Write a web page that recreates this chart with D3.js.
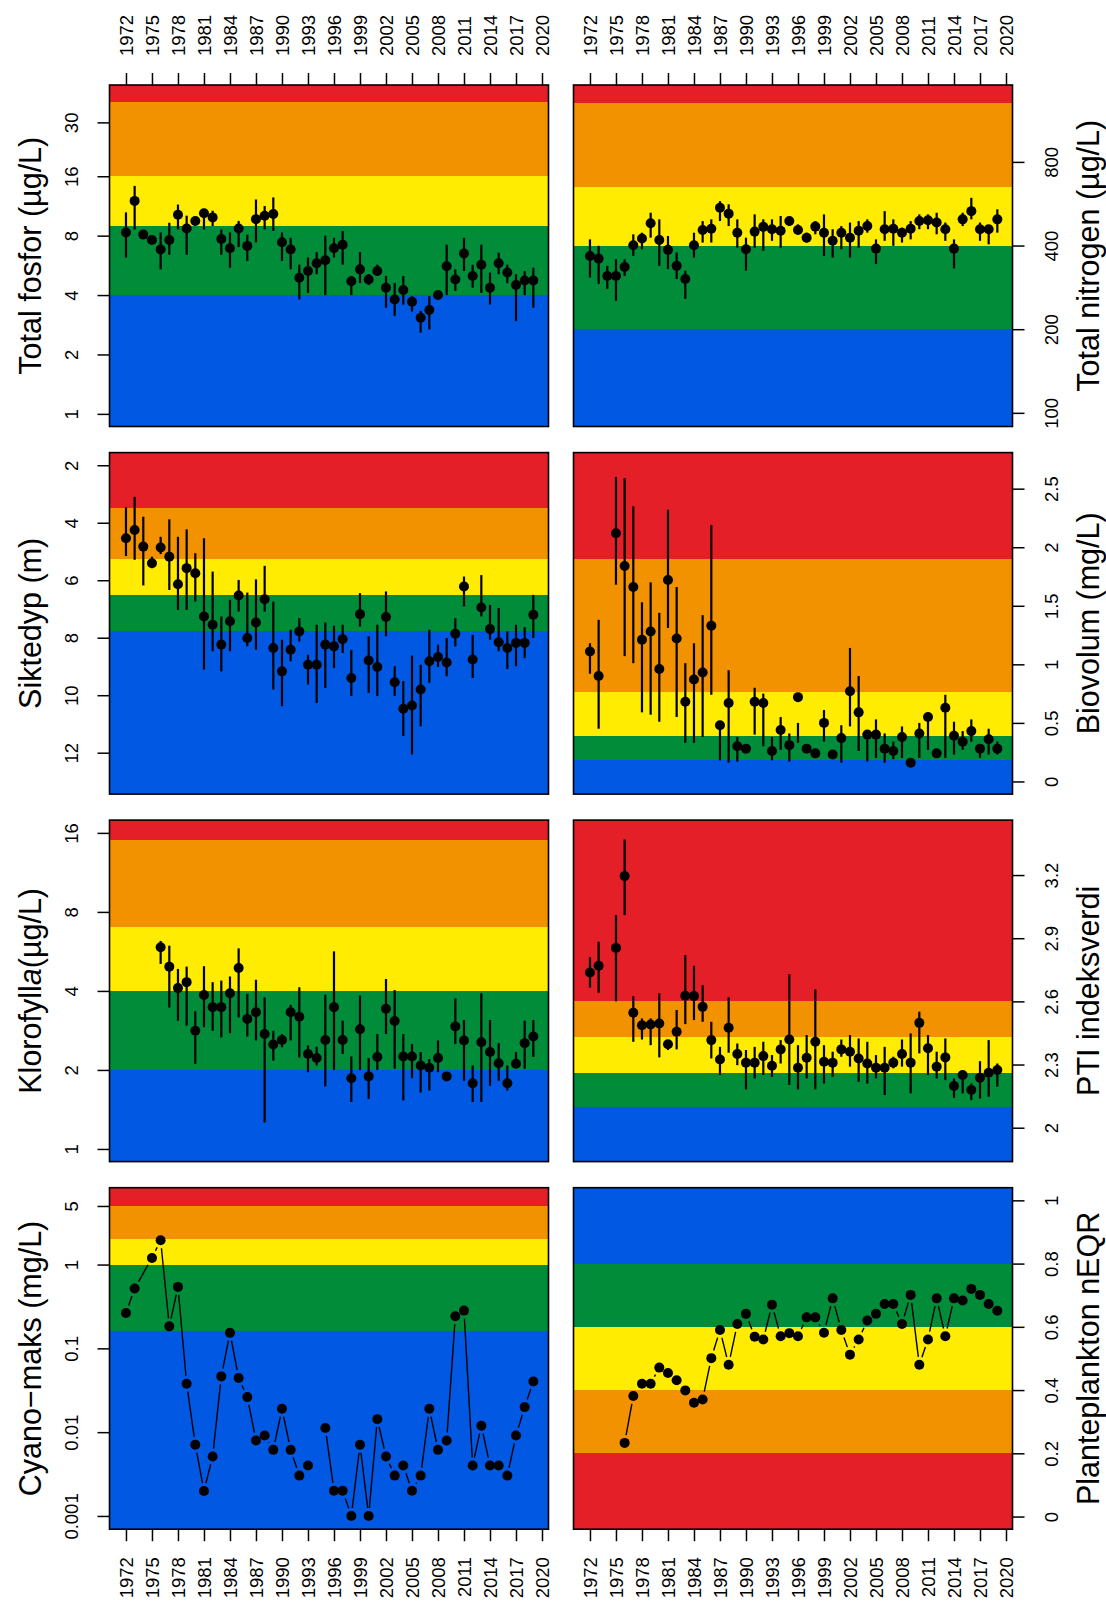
<!doctype html>
<html>
<head>
<meta charset="utf-8">
<script src="https://cdn.jsdelivr.net/npm/d3@7"></script>
<style>
  body { margin: 0; background: #fff; }
  svg text { font-family: "Liberation Sans", Arial, Helvetica, sans-serif; fill: #000; }
</style>
</head>
<body>
<svg id="chart" width="1106" height="1602"></svg>
<script>
  // ---- data ----
  var years = [1972, 1973, 1974, 1975, 1976, 1977, 1978, 1979, 1980, 1981,
    1982, 1983, 1984, 1985, 1986, 1987, 1988, 1989, 1990, 1991,
    1992, 1993, 1994, 1995, 1996, 1997, 1998, 1999, 2000, 2001,
    2002, 2003, 2004, 2005, 2006, 2007, 2008, 2009, 2010, 2011,
    2012, 2013, 2014, 2015, 2016, 2017, 2018, 2019];
  var xTicks = [1972, 1975, 1978, 1981, 1984, 1987, 1990, 1993, 1996, 1999,
    2002, 2005, 2008, 2011, 2014, 2017, 2020];

  // Total fosfor (ug/L)
  var tpMean = [8.3, 12.0, 8.1, 7.6, 6.8, 7.6, 10.2, 8.7, 9.5, 10.4, 9.9, 7.7, 6.9, 8.7, 7.1, 9.7, 10.1, 10.3, 7.4, 6.8,
    4.9, 5.3, 5.8, 6.0, 6.9, 7.2, 4.7, 5.4, 4.8, 5.3, 4.36, 3.8, 4.24, 3.7, 3.07, 3.36, 4.0, 5.6, 4.8, 6.5,
    5.0, 5.7, 4.36, 5.8, 5.2, 4.5, 4.74, 4.74];
  var tpLo = [6.2, 8.6, 7.8, 7.3, 5.4, 6.4, 8.6, 6.4, 9.1, 8.6, 8.95, 6.4, 5.5, 7.0, 5.95, 7.4, 8.6, 8.45, 5.95, 5.4,
    3.8, 4.1, 5.1, 4.0, 6.2, 5.7, 4.0, 4.6, 4.5, 5.0, 3.45, 3.13, 3.58, 3.3, 2.58, 2.68, 3.8, 4.0, 4.2, 5.3,
    4.36, 4.1, 3.58, 5.1, 4.6, 2.95, 4.0, 3.45];
  var tpHi = [10.5, 14.3, 8.4, 7.9, 8.3, 9.3, 11.5, 10.1, 9.9, 10.9, 10.7, 8.6, 8.3, 9.5, 8.1, 12.2, 11.3, 12.5, 8.3, 7.8,
    5.7, 6.2, 6.6, 8.0, 7.8, 8.45, 5.0, 6.6, 5.1, 5.7, 5.0, 4.6, 5.0, 3.95, 3.32, 3.95, 4.2, 7.2, 5.4, 7.8,
    5.7, 7.2, 5.2, 6.56, 5.7, 5.1, 5.3, 5.5];
  var tpTicks = [1, 2, 4, 8, 16, 30];
  var tpBreaks = [4, 9, 16, 38];

  // Total nitrogen (ug/L)
  var tnMean = [367, 359, 311, 311, 335, 401, 424, 481, 419, 386, 338, 303, 401, 455, 460, 547, 521, 445, 388, 449,
    467, 458, 452, 490, 455, 427, 468, 445, 416, 445, 427, 452, 470, 390, 458, 460, 445, 460, 490, 493,
    484, 458, 390, 497, 532, 458, 458, 497];
  var tnLo = [307, 291, 279, 253, 311, 367, 388, 427, 338, 329, 303, 257, 362, 410, 410, 490, 470, 393, 325, 393,
    383, 416, 393, 470, 439, 410, 439, 367, 362, 388, 362, 393, 445, 343, 416, 399, 410, 421, 458, 458,
    439, 416, 331, 470, 497, 416, 404, 445];
  var tnHi = [421, 399, 338, 357, 357, 439, 445, 525, 497, 433, 378, 325, 445, 490, 497, 578, 563, 497, 427, 518,
    497, 497, 511, 504, 477, 445, 490, 518, 458, 470, 484, 490, 497, 421, 532, 497, 464, 490, 518, 518,
    525, 484, 421, 525, 594, 484, 470, 540];
  var tnTicks = [100, 200, 400, 800];
  var tnBreaks = [200, 400, 650, 1300];

  // Siktedyp (m)
  var secMean = [4.54, 4.25, 4.83, 5.41, 4.86, 5.18, 6.14, 5.58, 5.76, 7.26, 7.55, 8.24, 7.43, 6.53, 8.01, 7.47, 6.66, 8.36, 9.17, 8.42,
    7.78, 8.94, 8.94, 8.24, 8.30, 8.05, 9.40, 7.18, 8.79, 9.02, 7.28, 9.55, 10.47, 10.36, 9.80, 8.82, 8.67, 8.86, 7.86, 6.22,
    8.76, 6.95, 7.70, 8.16, 8.36, 8.18, 8.18, 7.20];
  var secLo = [3.47, 3.10, 3.79, 5.18, 4.49, 3.88, 4.49, 4.23, 5.06, 4.54, 5.70, 7.26, 6.68, 5.99, 6.43, 5.97, 5.50, 6.74, 8.07, 7.72,
    7.32, 8.59, 7.55, 7.47, 7.58, 7.55, 8.42, 6.45, 7.95, 7.55, 6.39, 8.99, 9.51, 8.62, 8.94, 7.72, 8.24, 8.01, 7.32, 5.87,
    7.90, 5.82, 6.86, 6.97, 7.78, 7.55, 7.63, 6.51];
  var secHi = [5.16, 5.29, 6.18, 5.58, 5.09, 6.34, 7.03, 7.03, 6.74, 9.11, 8.47, 9.17, 8.47, 7.09, 8.30, 8.42, 7.09, 9.80, 10.38, 8.82,
    8.13, 9.63, 10.27, 9.75, 9.05, 8.53, 10.03, 7.61, 9.92, 10.03, 7.95, 10.03, 11.42, 12.06, 11.08, 9.57, 9.02, 9.34, 8.30, 6.91,
    9.40, 7.26, 8.07, 8.47, 9.09, 8.99, 8.71, 8.01];
  var secTicks = [2, 4, 6, 8, 10, 12];
  var secBreaks = [3.5, 5.25, 6.5, 7.75];

  // Biovolum (mg/L)
  var bioMean = [1.11, 0.90, null, 2.12, 1.84, 1.66, 1.21, 1.28, 0.96, 1.72, 1.22, 0.68, 0.87, 0.93, 1.33, 0.48, 0.67, 0.30, 0.28, 0.68,
    0.67, 0.26, 0.44, 0.31, 0.72, 0.28, 0.24, 0.50, 0.23, 0.37, 0.77, 0.59, 0.40, 0.40, 0.28, 0.26, 0.38, 0.16, 0.41, 0.55,
    0.24, 0.63, 0.39, 0.34, 0.43, 0.28, 0.36, 0.28];
  var bioLo = [0.92, 0.45, null, 1.68, 1.07, 1.01, 0.59, 0.57, 0.51, 1.31, 0.55, 0.33, 0.33, 0.38, 0.74, 0.18, 0.16, 0.17, 0.26, 0.40,
    0.30, 0.18, 0.27, 0.17, 0.33, 0.26, 0.22, 0.34, 0.21, 0.16, 0.47, 0.26, 0.17, 0.20, 0.16, 0.19, 0.20, 0.15, 0.20, 0.27,
    0.22, 0.20, 0.23, 0.27, 0.34, 0.20, 0.23, 0.23];
  var bioHi = [1.18, 1.38, null, 2.60, 2.59, 2.35, 1.53, 1.70, 1.44, 2.32, 1.66, 1.01, 1.18, 1.42, 2.19, 0.48, 0.95, 0.38, 0.30, 0.80,
    0.75, 0.38, 0.55, 0.41, 0.50, 0.30, 0.26, 0.61, 0.25, 0.48, 1.14, 0.90, 0.43, 0.53, 0.41, 0.34, 0.47, 0.17, 0.50, 0.55,
    0.26, 0.74, 0.51, 0.43, 0.53, 0.31, 0.45, 0.34];
  var bioTicks = [0, 0.5, 1, 1.5, 2, 2.5];
  var bioBreaks = [0.18, 0.39, 0.76, 1.9];

  // Klorofyll a (ug/L)
  var chlMean = [null, null, null, null, 5.87, 4.95, 4.10, 4.32, 2.82, 3.86, 3.47, 3.47, 3.92, 4.89, 3.13, 3.32, 2.74, 2.50, 2.60, 3.32,
    3.19, 2.30, 2.22, 2.60, 3.47, 2.60, 1.86, 2.86, 1.89, 2.24, 3.42, 3.07, 2.25, 2.25, 2.08, 2.04, 2.22, 1.89, 2.93, 2.59,
    1.78, 2.55, 2.34, 2.12, 1.78, 2.11, 2.53, 2.68];
  var chlLo = [null, null, null, null, 5.07, 3.46, 3.08, 2.95, 2.11, 2.91, 2.82, 2.66, 2.76, 3.17, 2.68, 2.59, 1.26, 2.17, 2.44, 2.59,
    2.23, 1.96, 2.08, 1.73, 2.0, 2.30, 1.51, 2.0, 1.55, 2.0, 2.74, 2.02, 1.53, 1.86, 1.64, 1.67, 1.96, 1.82, 2.51, 1.82,
    1.51, 1.51, 1.74, 1.82, 1.67, 2.05, 2.02, 2.24];
  var chlHi = [null, null, null, null, 6.2, 5.95, 4.85, 4.95, 3.35, 4.97, 4.32, 4.38, 4.54, 5.81, 3.90, 4.41, 3.78, 2.82, 2.74, 3.54,
    4.13, 2.48, 2.45, 3.87, 5.66, 3.08, 2.25, 3.84, 2.22, 2.74, 4.44, 4.03, 2.74, 2.51, 2.34, 2.20, 2.59, 1.95, 3.75, 3.10,
    2.08, 3.92, 3.10, 2.53, 2.08, 2.34, 3.08, 3.10];
  var chlTicks = [1, 2, 4, 8, 16];
  var chlBreaks = [2, 4, 7, 15];

  // PTI indeksverdi
  var ptiMean = [2.737, 2.769, null, 2.854, 3.195, 2.546, 2.487, 2.49, 2.495, 2.396, 2.456, 2.627, 2.625, 2.574, 2.416, 2.324, 2.475, 2.35, 2.309, 2.309,
    2.34, 2.294, 2.372, 2.419, 2.285, 2.332, 2.408, 2.313, 2.309, 2.372, 2.361, 2.329, 2.305, 2.285, 2.285, 2.309, 2.35, 2.309, 2.498, 2.377,
    2.29, 2.334, 2.198, 2.25, 2.179, 2.237, 2.261, 2.274];
  var ptiLo = [2.666, 2.641, null, 2.60, 3.01, 2.408, 2.419, 2.392, 2.334, 2.369, 2.372, 2.492, 2.511, 2.503, 2.329, 2.25, 2.356, 2.297, 2.182, 2.234,
    2.25, 2.242, 2.305, 2.203, 2.182, 2.234, 2.182, 2.21, 2.242, 2.337, 2.29, 2.218, 2.21, 2.234, 2.155, 2.282, 2.29, 2.163, 2.353, 2.25,
    2.234, 2.226, 2.142, 2.163, 2.131, 2.139, 2.147, 2.195];
  var ptiHi = [2.81, 2.883, null, 3.01, 3.369, 2.625, 2.519, 2.519, 2.638, 2.416, 2.559, 2.82, 2.769, 2.677, 2.503, 2.384, 2.619, 2.40, 2.369, 2.384,
    2.408, 2.345, 2.416, 2.729, 2.392, 2.44, 2.657, 2.392, 2.361, 2.419, 2.44, 2.424, 2.408, 2.345, 2.384, 2.337, 2.419, 2.448, 2.551, 2.44,
    2.361, 2.424, 2.234, 2.266, 2.21, 2.316, 2.416, 2.305];
  var ptiTicks = [2, 2.3, 2.6, 2.9, 3.2];
  var ptiBreaks = [2.1, 2.26, 2.43, 2.6];

  // Cyano-maks (mg/L) - no row for 1974, 1994 is missing
  var cyanoYears = [1972, 1973, 1975, 1976, 1977, 1978, 1979, 1980, 1981, 1982,
    1983, 1984, 1985, 1986, 1987, 1988, 1989, 1990, 1991, 1992,
    1993, 1994, 1995, 1996, 1997, 1998, 1999, 2000, 2001, 2002,
    2003, 2004, 2005, 2006, 2007, 2008, 2009, 2010, 2011, 2012,
    2013, 2014, 2015, 2016, 2017, 2018, 2019];
  var cyano = [0.264, 0.517, 1.20, 1.95, 0.183, 0.541, 0.0378, 0.00706, 0.00199, 0.00512,
    0.0463, 0.153, 0.0442, 0.0262, 0.00795, 0.00912, 0.00615, 0.0190, 0.00615, 0.00303,
    0.0040, null, 0.0112, 0.002, 0.002, 0.001, 0.00706, 0.001, 0.0143, 0.00512,
    0.00303, 0.0040, 0.002, 0.00303, 0.0190, 0.00615, 0.00795, 0.241, 0.282, 0.004,
    0.0119, 0.004, 0.004, 0.00303, 0.00912, 0.0199, 0.0403];
  var cyanoTicks = [0.001, 0.01, 0.1, 1, 5];
  var cyanoBreaks = [0.16, 1, 2, 5];

  // Planteplankton nEQR
  var neqr = [null, null, null, null, 0.233, 0.381, 0.420, 0.420, 0.471, 0.454, 0.431, 0.399, 0.360, 0.370, 0.501, 0.590, 0.480, 0.609, 0.641, 0.569,
    0.560, 0.670, 0.570, 0.580, 0.570, 0.630, 0.630, 0.581, 0.690, 0.590, 0.512, 0.560, 0.620, 0.641, 0.672, 0.672, 0.609, 0.701, 0.480, 0.560,
    0.690, 0.570, 0.690, 0.683, 0.720, 0.701, 0.672, 0.651];
  var neqrTicks = [0, 0.2, 0.4, 0.6, 0.8, 1];
  var neqrBreaks = [0.2, 0.4, 0.6, 0.8];

  // class colours, listed from low value to high value
  var RED = '#e41f27', ORANGE = '#f29200', YELLOW = '#ffec00', GREEN = '#008c39', BLUE = '#0058e3';
  var worseUp = [BLUE, GREEN, YELLOW, ORANGE, RED];
  var betterUp = [RED, ORANGE, YELLOW, GREEN, BLUE];

  var panels = [
    { row: 0, col: 0, title: ['Total fosfor (µg/L)'], log: true, domain: [0.863, 46.4], ticks: tpTicks,
      breaks: tpBreaks, colors: worseUp, years: years, mean: tpMean, lo: tpLo, hi: tpHi },
    { row: 0, col: 1, title: ['Total nitrogen (µg/L)'], log: true, domain: [89.3, 1513], ticks: tnTicks,
      breaks: tnBreaks, colors: worseUp, years: years, mean: tnMean, lo: tnLo, hi: tnHi },
    { row: 1, col: 0, title: ['Siktedyp (m)'], log: false, domain: [13.44, 1.56], ticks: secTicks,
      breaks: secBreaks, colors: betterUp, years: years, mean: secMean, lo: secLo, hi: secHi },
    { row: 1, col: 1, title: ['Biovolum (mg/L)'], log: false, domain: [-0.108, 2.808], ticks: bioTicks,
      breaks: bioBreaks, colors: worseUp, years: years, mean: bioMean, lo: bioLo, hi: bioHi },
    { row: 2, col: 0, title: ['Klorofyll', 'a', '(µg/L)'], log: true, domain: [0.895, 17.9], ticks: chlTicks,
      breaks: chlBreaks, colors: worseUp, years: years, mean: chlMean, lo: chlLo, hi: chlHi },
    { row: 2, col: 1, title: ['PTI indeksverdi'], log: false, domain: [1.839, 3.461], ticks: ptiTicks,
      breaks: ptiBreaks, colors: worseUp, years: years, mean: ptiMean, lo: ptiLo, hi: ptiHi },
    { row: 3, col: 0, title: ['Cyano\u2212maks (mg/L)'], log: true, domain: [0.000695, 8.26], ticks: cyanoTicks,
      breaks: cyanoBreaks, colors: worseUp, years: cyanoYears, mean: cyano, lines: true },
    { row: 3, col: 1, title: ['Planteplankton nEQR'], log: false, domain: [-0.04, 1.04], ticks: neqrTicks,
      breaks: neqrBreaks, colors: betterUp, years: years, mean: neqr, lines: true }
  ];

  // ---- layout ----
  var colX = [109.5, 573.5];
  var rowY = [85, 452.6, 820.1, 1187.7];
  var panelW = 439, panelH = 341.5;
  var xDomain = [1970.1, 2020.75];
  var tickFont = 18.5, titleFont = 30.5;
  var tickLen = 12, dotR = 5, lineGap = 8;

  var svg = d3.select('#chart');

  panels.forEach(drawPanel);

  function styleAxis(ax, transform, anchor) {
    ax.attr('font-size', null).attr('font-family', null);
    ax.select('.domain').remove();
    ax.selectAll('.tick line').attr('stroke', '#000').attr('stroke-width', 1.5);
    ax.selectAll('.tick text')
      .attr('x', null).attr('y', null).attr('dy', null)
      .attr('text-anchor', anchor)
      .attr('transform', transform)
      .style('font-size', tickFont + 'px');
  }

  function drawPanel(p) {
    var x0 = colX[p.col], y0 = rowY[p.row];
    var g = svg.append('g').attr('transform', 'translate(' + x0 + ',' + y0 + ')');

    var x = d3.scaleLinear().domain(xDomain).range([0, panelW]);
    var y = (p.log ? d3.scaleLog() : d3.scaleLinear()).domain(p.domain).range([panelH, 0]);

    // class bands
    var edges = [d3.min(p.domain)].concat(p.breaks, [d3.max(p.domain)]);
    g.append('g').attr('shape-rendering', 'crispEdges')
      .selectAll('rect').data(p.colors).enter().append('rect')
      .attr('x', 0).attr('width', panelW)
      .attr('y', function (c, i) { return Math.min(y(edges[i]), y(edges[i + 1])); })
      .attr('height', function (c, i) { return Math.abs(y(edges[i]) - y(edges[i + 1])); })
      .attr('fill', function (c) { return c; });

    var rows = p.years.map(function (yr, i) {
      return {
        year: yr, v: p.mean[i],
        lo: p.lo ? p.lo[i] : null,
        hi: p.hi ? p.hi[i] : null
      };
    });
    var valid = rows.filter(function (d) { return d.v != null; });

    // error bars
    if (p.lo) {
      g.append('g').selectAll('line').data(valid.filter(function (d) { return d.lo != null; }))
        .enter().append('line')
        .attr('x1', function (d) { return x(d.year); })
        .attr('x2', function (d) { return x(d.year); })
        .attr('y1', function (d) { return y(d.lo); })
        .attr('y2', function (d) { return y(d.hi); })
        .attr('stroke', '#000').attr('stroke-width', 2.2);
    }

    // R type="b": segments stop short of the points
    if (p.lines) {
      var segs = [];
      for (var i = 0; i < rows.length - 1; i++) {
        var a = rows[i], b = rows[i + 1];
        if (a.v == null || b.v == null) continue;
        var ax = x(a.year), ay = y(a.v), bx = x(b.year), by = y(b.v);
        var len = Math.hypot(bx - ax, by - ay);
        if (len <= 2 * lineGap) continue;
        var ux = (bx - ax) / len, uy = (by - ay) / len;
        segs.push([ax + ux * lineGap, ay + uy * lineGap, bx - ux * lineGap, by - uy * lineGap]);
      }
      g.append('g').selectAll('line').data(segs).enter().append('line')
        .attr('x1', function (s) { return s[0]; })
        .attr('y1', function (s) { return s[1]; })
        .attr('x2', function (s) { return s[2]; })
        .attr('y2', function (s) { return s[3]; })
        .attr('stroke', '#000').attr('stroke-width', 1.4);
    }

    // points
    g.append('g').selectAll('circle').data(valid).enter().append('circle')
      .attr('cx', function (d) { return x(d.year); })
      .attr('cy', function (d) { return y(d.v); })
      .attr('r', dotR)
      .attr('fill', '#000');

    // box
    g.append('rect')
      .attr('width', panelW).attr('height', panelH)
      .attr('fill', 'none').attr('stroke', '#000').attr('stroke-width', 1.6);

    // y axis
    var fmt = function (d) { return String(d); };
    if (p.col === 0) {
      g.append('g').call(d3.axisLeft(y).tickValues(p.ticks).tickFormat(fmt).tickSize(tickLen))
        .call(styleAxis, 'translate(-31.2,0) rotate(-90)', 'middle');
    } else {
      g.append('g').attr('transform', 'translate(' + panelW + ',0)')
        .call(d3.axisRight(y).tickValues(p.ticks).tickFormat(fmt).tickSize(tickLen))
        .call(styleAxis, 'translate(45.5,0) rotate(-90)', 'middle');
    }

    // x axis on the outer rows only
    if (p.row === 0) {
      g.append('g').call(d3.axisTop(x).tickValues(xTicks).tickFormat(d3.format('d')).tickSize(tickLen))
        .call(styleAxis, 'translate(6.6,-29) rotate(-90)', 'start');
    }
    if (p.row === 3) {
      g.append('g').attr('transform', 'translate(0,' + panelH + ')')
        .call(d3.axisBottom(x).tickValues(xTicks).tickFormat(d3.format('d')).tickSize(tickLen))
        .call(styleAxis, 'translate(6.6,28) rotate(-90)', 'end');
    }

    // axis title
    var tx = p.col === 0 ? x0 - 68.5 : x0 + panelW + 86;
    var title = svg.append('text')
      .attr('transform', 'translate(' + tx + ',' + (y0 + panelH / 2) + ') rotate(-90)')
      .attr('text-anchor', 'middle')
      .style('font-size', titleFont + 'px');
    p.title.forEach(function (part, i) {
      title.append('tspan').text(part)
        .style('font-style', (p.title.length > 1 && i === 1) ? 'italic' : 'normal');
    });
  }
</script>
</body>
</html>
